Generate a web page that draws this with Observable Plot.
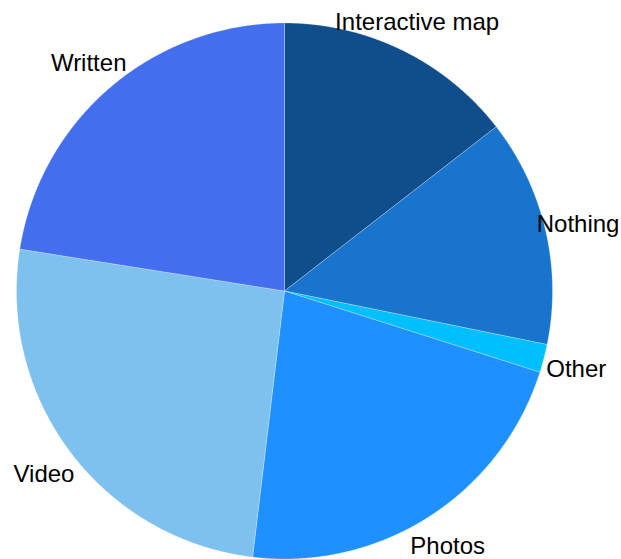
<!DOCTYPE html>
<html><head><meta charset="utf-8">
<script src="https://cdn.jsdelivr.net/npm/d3@7"></script>
<script src="https://cdn.jsdelivr.net/npm/@observablehq/plot@0.6"></script>
<style>html,body{margin:0;padding:0;background:#fff}</style>
</head><body><div id="chart"></div>
<script>
const categories = ["Interactive map", "Nothing", "Other", "Photos", "Video", "Written"];
const shares = [14.5, 13.7, 1.7, 22.0, 25.6, 22.5];
const colors = ["#104E8B", "#1874CD", "#00BFFF", "#1E90FF", "#7EC0EE", "#436EEE"];

const W = 621, H = 559, CX = 284, CY = 290.5, R = 268;
const arcs = d3.pie().sort(null).value(d => d.value)(
  categories.map((c, i) => ({label: c, value: shares[i]}))
);
const pts = [];
for (const a of arcs) {
  const lab = a.data.label;
  pts.push({label: lab, x: 0, y: 0});
  const n = Math.max(2, Math.ceil((a.endAngle - a.startAngle) / 0.004));
  for (let k = 0; k <= n; k++) {
    const t = a.startAngle + (a.endAngle - a.startAngle) * k / n;
    pts.push({label: lab, x: Math.sin(t), y: Math.cos(t)});
  }
  pts.push({label: lab, x: 0, y: 0});
}
const labels = arcs.map(a => {
  const m = (a.startAngle + a.endAngle) / 2;
  return {label: a.data.label, x: 1.125 * Math.sin(m), y: 1.125 * Math.cos(m)};
});

const chart = Plot.plot({
  width: W, height: H,
  margin: 0,
  x: {domain: [-CX / R, (W - CX) / R], range: [0, W], axis: null},
  y: {domain: [-(H - CY) / R, CY / R], range: [H, 0], axis: null},
  color: {domain: categories, range: colors},
  style: {background: "#fff"},
  marks: [
    Plot.line(pts, {x: "x", y: "y", z: "label", fill: "label", stroke: "#ffffff", strokeWidth: 0.5, strokeOpacity: 0.5, curve: "linear-closed"}),
    Plot.text(labels, {x: "x", y: "y", text: "label", fill: "#000", fontSize: 24, dy: 2, fontFamily: "'Liberation Sans', Helvetica, Arial, sans-serif", textAnchor: "middle"})
  ]
});
document.getElementById("chart").appendChild(chart);
</script>
</body></html>
